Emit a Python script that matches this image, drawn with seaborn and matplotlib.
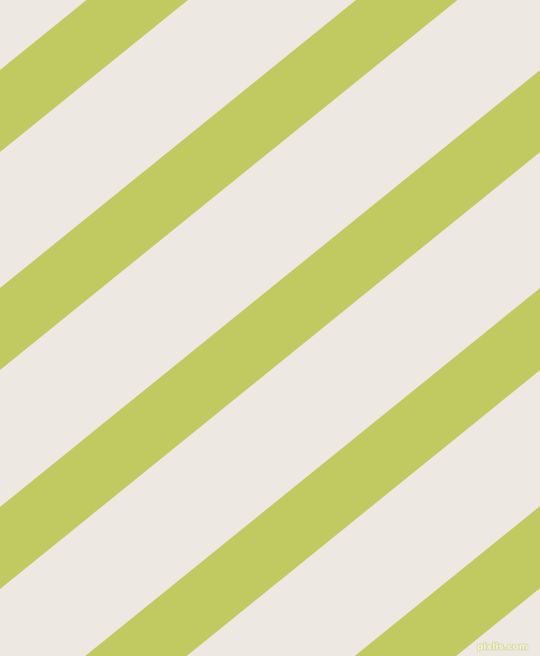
import numpy as np
import matplotlib
matplotlib.use("Agg")
import matplotlib.pyplot as plt
import matplotlib.patheffects as pe
import seaborn as sns

# Stripe data (pixel space, y measured downward from top)
stripe_intercepts = [70, 288, 507, 725, 943]   # top-edge y at x=0
stripe_width = 82                               # vertical thickness
stripe_slope = 0.809                            # y decreases by this per px of x
background_color = "#EDE8E2"
stripe_color = "#C0CA60"

sns.set_theme(style="white")
W, H = 540, 656
fig = plt.figure(figsize=(W / 100, H / 100), dpi=100)
ax = fig.add_axes([0, 0, 1, 1])
ax.set_facecolor(background_color)
fig.patch.set_facecolor(background_color)

x = np.array([0.0, W])
for c in stripe_intercepts:
    top = c - stripe_slope * x
    bot = c + stripe_width - stripe_slope * x
    ax.fill_between(x, top, bot, color=stripe_color, linewidth=0)

ax.set_xlim(0, W)
ax.set_ylim(H, 0)
ax.axis("off")

ax.text(528, 647, "pixlis.com", fontsize=6.5, color="#F2EFE6", ha="right", va="center",
        family="DejaVu Sans", fontweight="bold",
        path_effects=[pe.withStroke(linewidth=1.2, foreground="#D8DDA0")])

fig.savefig("out.png", dpi=100, facecolor=background_color)
